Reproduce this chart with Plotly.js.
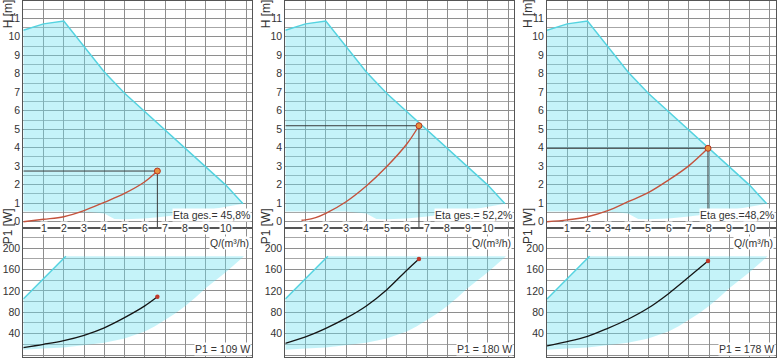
<!DOCTYPE html>
<html><head><meta charset="utf-8">
<script src="https://cdn.plot.ly/plotly-3.0.1.min.js"></script>
<style>html,body{margin:0;padding:0;background:#fff}</style>
</head><body><div id="chart" style="width:778px;height:360px"></div>
<script>
// ---- pump envelope (same pump in all three panels) ----
const envTopQ = [0, 1, 2, 3, 4, 5, 6, 7, 8, 9, 10, 10.85];
const envTopH = [10.35, 10.7, 10.85, 9.45, 8.1, 6.95, 5.95, 4.95, 3.97, 2.97, 1.98, 0.97];
const envLowQ = [10.85, 10, 9, 8, 7, 6, 5, 4.5, 4, 3, 2, 1, 0];
const envLowH = [0.97, 0.8, 0.6, 0.42, 0.28, 0.17, 0.13, 0.15, 0.45, 0.55, 0.55, 0.55, 0.55];
const pEnvTopQ = [0, 2.1, 10.9];
const pEnvTopP = [105, 185, 185];
const pEnvLowQ = [10.9, 10.7, 10.4, 10, 9.5, 9, 8.5, 8, 7.5, 7, 6.5, 6, 5, 4, 3, 2, 1, 0];
const pEnvLowP = [185, 178, 168, 155, 140, 125, 108, 92, 78, 66, 54, 44, 31, 23, 18, 14, 12, 10];

// ---- ticks ----
const qTickVals = [1, 2, 3, 4, 5, 6, 7, 8, 9, 10];
const qTickText = ['1', '2', '3', '4', '5', '6', '7', '8', '9', '10'];
const hTickVals = [0, 1, 2, 3, 4, 5, 6, 7, 8, 9, 10, 11];
const pTickVals = [0, 40, 80, 120, 160, 200];

// ---- operating curves ----
const redQ1 = [0, 1, 2, 3, 4, 5, 6, 6.62];
const redH1 = [0, 0.13, 0.27, 0.6, 1.05, 1.53, 2.16, 2.74];
const blkQ1 = [0, 1, 2, 3, 4, 5, 6, 6.62];
const blkP1 = [14, 20, 27, 37, 51, 70, 92, 109];

const redQ2 = [0.8, 1, 1.5, 2, 3, 4, 5, 6, 6.6];
const redH2 = [0.08, 0.1, 0.22, 0.45, 1.08, 1.93, 2.97, 4.2, 5.19];
const blkQ2 = [0, 1, 2, 3, 4, 5, 6, 6.6];
const blkP2 = [22, 34, 50, 69, 92, 122, 159, 180];

const redQ3 = [0, 1, 2, 3, 4, 5, 6, 7, 7.95];
const redH3 = [0, 0.1, 0.27, 0.6, 1.08, 1.57, 2.25, 3.02, 3.97];
const blkQ3 = [0, 1, 2, 3, 4, 5, 6, 7, 7.95];
const blkP3 = [17, 25, 35, 50, 67, 88, 115, 146, 176];

const opQ = [6.62, 6.6, 7.95];
const opH = [2.74, 5.19, 3.97];
const opP = [109, 180, 176];
const etaLabels = ['Eta ges.= 45,8%', 'Eta ges.= 52,2%', 'Eta ges.=48,2%'];
const p1Labels = ['P1 = 109 W', 'P1 = 180 W', 'P1 = 178 W'];
const hTitle = 'H [m]';
const pTitle = 'P1 [W]';
const qTitle = 'Q/(m³/h)';

const redQ = [redQ1, redQ2, redQ3], redH = [redH1, redH2, redH3];
const blkQ = [blkQ1, blkQ2, blkQ3], blkP = [blkP1, blkP2, blkP3];

// ---- geometry (pixels) ----
const W = 778, H = 360;
const panelX0 = [23.3, 285.3, 547];
const titleOffset = [15, 19, 19];
const panelW = 229;
const unitPx = 20.25;
const topY0 = 1, midY = 227.7, botY1 = 357;
const hZeroPx = 221.7, hUnitPx = 18.49;
const pZeroPx = 355, pUnitPx = 0.5335;

const FONT = 'Liberation Sans Narrow, Liberation Sans, Arial, sans-serif';
const GRID = '#8e8e8e';
const GRID2 = '#a6a6a6';
const FRAME = '#555';
const CYAN = '#55d3e0';
const FILL = 'rgba(110,226,240,0.40)';

const hRange = [-(midY - hZeroPx) / hUnitPx, (hZeroPx - topY0) / hUnitPx];
const pRange = [-(botY1 - pZeroPx) / pUnitPx, (pZeroPx - midY) / pUnitPx];
const qRange = [0, panelW / unitPx];

const traces = [];
const layout = {
  width: W, height: H, margin: {l: 0, r: 0, t: 0, b: 0},
  paper_bgcolor: '#fff', plot_bgcolor: 'rgba(0,0,0,0)',
  showlegend: false, font: {family: FONT, size: 10, color: '#333'},
  annotations: [], shapes: []
};

function px(x) { return x / W; }
function py(y) { return (H - y) / H; }

for (let i = 0; i < 3; i++) {
  const tN = 2 * i + 1, bN = 2 * i + 2;
  const xt = 'x' + (tN === 1 ? '' : tN), yt = 'y' + (tN === 1 ? '' : tN);
  const xb = 'x' + bN, yb = 'y' + bN;
  const dom = [px(panelX0[i]), px(panelX0[i] + panelW)];
  const xaxBase = {domain: dom, range: qRange, showgrid: true, gridcolor: GRID, gridwidth: 1,
    tickvals: [0,1,2,3,4,5,6,7,8,9,10,11], showticklabels: false, ticks: '', zeroline: false,
    showline: true, mirror: true, linecolor: FRAME, linewidth: 1, fixedrange: true};
  layout['xaxis' + (tN === 1 ? '' : tN)] = Object.assign({}, xaxBase, {anchor: yt});
  layout['xaxis' + bN] = Object.assign({}, xaxBase, {anchor: yb});
  layout['yaxis' + (tN === 1 ? '' : tN)] = {domain: [py(midY), py(topY0)], range: hRange, anchor: xt,
    tickvals: hTickVals, ticks: '', showgrid: true, gridcolor: GRID, zeroline: false,
    minor: {dtick: 0.5, tick0: 0, showgrid: true, gridcolor: GRID2, ticks: ''},
    showline: true, mirror: true, linecolor: FRAME, tickfont: {size: 10.5, color: '#333'}, fixedrange: true};
  layout['yaxis' + bN] = {domain: [py(botY1), py(midY)], range: pRange, anchor: xb,
    tickvals: pTickVals, ticks: '', showgrid: true, gridcolor: GRID, zeroline: false,
    minor: {dtick: 20, tick0: 0, showgrid: true, gridcolor: GRID2, ticks: ''},
    showline: true, mirror: true, linecolor: FRAME, tickfont: {size: 10.5, color: '#333'}, fixedrange: true};

  // H envelope fill
  traces.push({x: envTopQ.concat(envLowQ), y: envTopH.concat(envLowH), xaxis: xt, yaxis: yt,
    mode: 'lines', fill: 'toself', fillcolor: FILL, line: {width: 0}, hoverinfo: 'skip'});
  traces.push({x: envTopQ, y: envTopH, xaxis: xt, yaxis: yt, mode: 'lines',
    line: {color: CYAN, width: 1.5}, hoverinfo: 'skip'});
  // P envelope fill
  traces.push({x: pEnvTopQ.concat(pEnvLowQ), y: pEnvTopP.concat(pEnvLowP), xaxis: xb, yaxis: yb,
    mode: 'lines', fill: 'toself', fillcolor: FILL, line: {width: 0}, hoverinfo: 'skip'});
  traces.push({x: pEnvTopQ.slice(0, 2), y: pEnvTopP.slice(0, 2), xaxis: xb, yaxis: yb, mode: 'lines',
    line: {color: CYAN, width: 1.5}, hoverinfo: 'skip'});
  // crosshair
  traces.push({x: [0, opQ[i], opQ[i]], y: [opH[i], opH[i], hRange[0]], xaxis: xt, yaxis: yt,
    mode: 'lines', line: {color: '#3a3a3a', width: 1}, hoverinfo: 'skip'});
  // red system curve
  traces.push({x: redQ[i], y: redH[i], xaxis: xt, yaxis: yt, mode: 'lines',
    line: {color: '#c4523c', width: 1.4, shape: 'spline'}, hoverinfo: 'skip'});
  traces.push({x: [opQ[i]], y: [opH[i]], xaxis: xt, yaxis: yt, mode: 'markers',
    marker: {size: 6, color: '#e8913e', line: {color: '#b83220', width: 1}}, hoverinfo: 'skip'});
  // black power curve
  traces.push({x: blkQ[i], y: blkP[i], xaxis: xb, yaxis: yb, mode: 'lines',
    line: {color: '#151515', width: 1.3, shape: 'spline'}, hoverinfo: 'skip'});
  traces.push({x: [opQ[i]], y: [opP[i]], xaxis: xb, yaxis: yb, mode: 'markers',
    marker: {size: 4.5, color: '#c0392b'}, hoverinfo: 'skip'});

  // x tick labels sitting on the divider line
  qTickVals.forEach((v, k) => {
    layout.annotations.push({xref: xt, yref: 'paper', x: v, y: py(midY), text: qTickText[k],
      showarrow: false, bgcolor: '#fff', borderpad: 0, xanchor: 'center', yanchor: 'middle',
      font: {size: 10.5, color: '#333'}});
  });
  const right = panelX0[i] + panelW;
  layout.annotations.push({xref: 'paper', yref: 'paper', x: px(right - 1), y: py(215), text: etaLabels[i],
    showarrow: false, xanchor: 'right', yanchor: 'middle', bgcolor: '#fff', borderpad: 0,
    font: {size: 10.5, color: '#333'}});
  layout.annotations.push({xref: 'paper', yref: 'paper', x: px(right - 2), y: py(243), text: qTitle,
    showarrow: false, xanchor: 'right', yanchor: 'middle', bgcolor: '#fff', borderpad: 0,
    font: {size: 10.5, color: '#333'}});
  layout.annotations.push({xref: 'paper', yref: 'paper', x: px(right - 1), y: py(349), text: p1Labels[i],
    showarrow: false, xanchor: 'right', yanchor: 'middle', bgcolor: '#fff', borderpad: 0,
    font: {size: 10.5, color: '#333'}});
  layout.annotations.push({xref: 'paper', yref: 'paper', x: px(panelX0[i] - titleOffset[i]), y: py(14), text: hTitle,
    showarrow: false, textangle: -90, xanchor: 'center', yanchor: 'middle', font: {size: 12, color: '#333'}});
  layout.annotations.push({xref: 'paper', yref: 'paper', x: px(panelX0[i] - titleOffset[i]), y: py(226), text: pTitle,
    showarrow: false, textangle: -90, xanchor: 'center', yanchor: 'middle', font: {size: 12, color: '#333'}});
}

Plotly.newPlot('chart', traces, layout, {staticPlot: true, displayModeBar: false});
</script></body></html>
